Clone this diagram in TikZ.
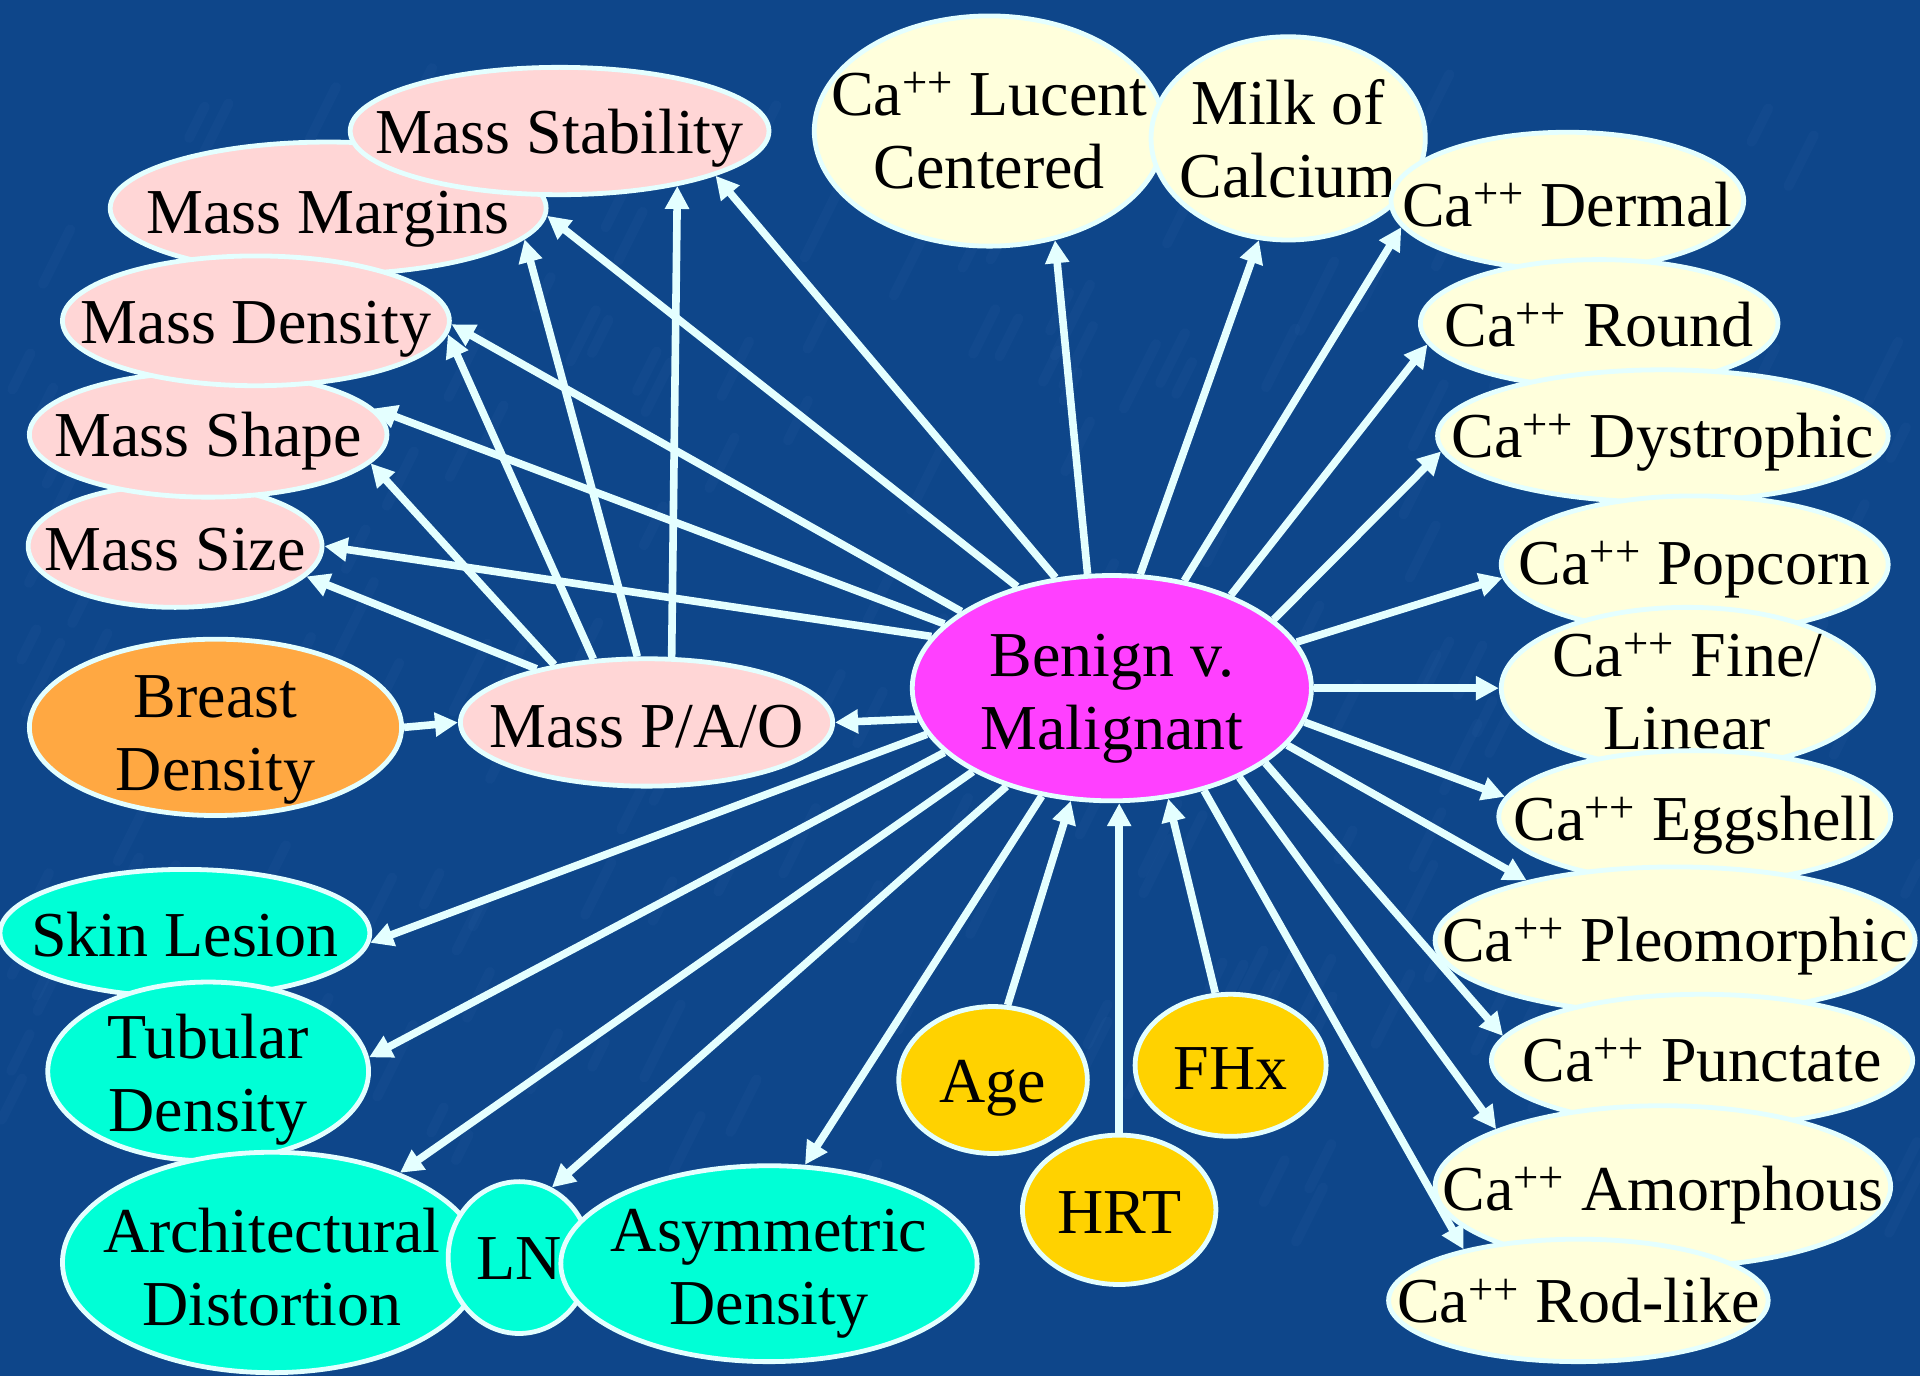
\documentclass[tikz,border=0pt]{standalone}
\usepackage{fontspec}
\setmainfont{Liberation Serif}
\usetikzlibrary{shapes.geometric,arrows.meta}

\definecolor{linec}{RGB}{228,255,255}
\definecolor{bgtop}{RGB}{3,36,62}
\definecolor{bgdim}{RGB}{8,54,100}
\definecolor{bgmid}{RGB}{14,70,138}
\definecolor{bgbot}{RGB}{4,42,72}
\definecolor{streak}{RGB}{110,160,225}
\definecolor{massc}{RGB}{255,214,214}
\definecolor{rootc}{RGB}{255,64,255}
\definecolor{breastc}{RGB}{255,168,66}
\definecolor{signc}{RGB}{0,255,214}
\definecolor{riskc}{RGB}{255,210,0}
\definecolor{calcc}{RGB}{255,255,220}

\pgfdeclareverticalshading{slidebg}{100bp}{%
  color(0bp)=(bgbot); color(6bp)=(bgdim); color(14bp)=(bgmid);
  color(78bp)=(bgmid); color(92bp)=(bgdim); color(100bp)=(bgtop)}

\tikzset{
  bub/.style={ellipse, draw=linec, line width=2.4pt, inner sep=0pt},
  sz/.style 2 args={minimum width=#1*1.2244pt, minimum height=#2*1.2244pt},
  txt/.style 2 args={label={[yshift=-#1*0.6122pt]center:#2}},
  arr/.style={draw=linec, line width=3.8pt,
    -{Triangle[length=11.5pt,width=11.5pt]}},
}

\begin{document}
\begin{tikzpicture}[x=0.6122pt, y=-0.6122pt,
  font=\fontsize{32}{36.5}\selectfont,
  every label/.style={inner sep=0pt, align=center, text=black}]
\useasboundingbox (0,0) rectangle (1568,1123);
\shade[shading=slidebg] (0,0) rectangle (1568,1123);
% soft mottled streaks of the slide texture
\pgfmathsetseed{11}
\foreach \i in {1,...,220}{
  \pgfmathsetmacro\sx{rnd*1568}
  \pgfmathsetmacro\sy{110+rnd*920}
  \pgfmathsetmacro\sl{20+rnd*40}
  \draw[streak, opacity=0.045, line width=5pt, line cap=round]
    (\sx,\sy) -- ++(0.5*\sl,-\sl);
}

% mass descriptors
\node[bub, fill=massc, sz={120}{50}, txt={3}{Mass Size}] (size) at (143,446) {};
\node[bub, fill=massc, sz={146}{51}, txt={5}{Mass Shape}] (shape) at (170,355) {};
\node[bub, fill=massc, sz={178}{54}, txt={9}{Mass Margins}] (marg) at (268,170) {};
\node[bub, fill=massc, sz={158}{53}, txt={7}{Mass Density}] (dens) at (209,262) {};
\node[bub, fill=massc, sz={171}{52}, txt={6}{Mass Stability}] (stab) at (457,107) {};
\node[bub, fill=massc, sz={152}{52}, txt={3}{Mass P/A/O}] (pao) at (528,590) {};
\node[bub, fill=breastc, sz={152}{72}, txt={10}{Breast\\Density}] (breast) at (176,594) {};

% root
\node[bub, fill=rootc, sz={163}{92}, txt={9}{Benign v.\\Malignant}] (ben) at (908,562) {};

% calcifications
\node[bub, fill=calcc, sz={143}{94}, txt={0}{Ca\textsuperscript{++} Lucent\\Centered}] (luc) at (808,107) {};
\node[bub, fill=calcc, sz={112}{83}, txt={0}{Milk of\\Calcium}] (milk) at (1052,113) {};
\node[bub, fill=calcc, sz={144}{56}, txt={3}{Ca\textsuperscript{++} Dermal}] (derm) at (1280,164) {};
\node[bub, fill=calcc, sz={146}{52}, txt={1}{Ca\textsuperscript{++} Round}] (round) at (1306,264) {};
\node[bub, fill=calcc, sz={184}{54}, txt={5}{Ca\textsuperscript{++} Dystrophic}] (dys) at (1358,356) {};
\node[bub, fill=calcc, sz={158}{56}, txt={4}{Ca\textsuperscript{++} Popcorn}] (pop) at (1384,461) {};
\node[bub, fill=calcc, sz={152}{66}, txt={3}{Ca\textsuperscript{++} Fine/\\Linear}] (fine) at (1378,562) {};
\node[bub, fill=calcc, sz={160}{54}, txt={7}{Ca\textsuperscript{++} Eggshell}] (egg) at (1384,667) {};
\node[bub, fill=calcc, sz={196}{60}, txt={5}{Ca\textsuperscript{++} Pleomorphic}] (pleo) at (1368,768) {};
\node[bub, fill=calcc, sz={172}{54}, txt={0}{Ca\textsuperscript{++} Punctate}] (punc) at (1390,866) {};
\node[bub, fill=calcc, sz={186}{66}, txt={7}{Ca\textsuperscript{++} Amorphous}] (amor) at (1358,969) {};
\node[bub, fill=calcc, sz={155}{50}, txt={0}{Ca\textsuperscript{++} Rod-like}] (rod) at (1289,1062) {};

% other findings
\node[bub, fill=signc, sz={151}{52}, txt={1}{Skin Lesion}] (skin) at (151,762) {};
\node[bub, fill=signc, sz={131}{73}, txt={7}{Tubular\\Density}] (tub) at (170,875) {};
\node[bub, fill=signc, sz={171}{90}, txt={4}{Architectural\\Distortion}] (arch) at (222,1031) {};
\node[bub, fill=signc, sz={58}{62}, txt={1}{LN}] (ln) at (424,1027) {};
\node[bub, fill=signc, sz={170}{80}, txt={8}{Asymmetric\\Density}] (asym) at (628,1032) {};

% risk factors
\node[bub, fill=riskc, sz={77}{60}, txt={7}{Age}] (age) at (811,882) {};
\node[bub, fill=riskc, sz={78}{58}, txt={3}{FHx}] (fhx) at (1005,870) {};
\node[bub, fill=riskc, sz={79}{61}, txt={2}{HRT}] (hrt) at (914,988) {};

% edges from the root
\draw[arr] (ben.117) -- (stab.-16);
\draw[arr] (ben.133.5) -- (marg.-2.7);
\draw[arr] (ben.153.4) -- (dens.-1);
\draw[arr] (ben.159.4) -- (shape.9.9);
\draw[arr] (ben.164.9) -- (size.0);
\draw[arr] (ben.189.5) -- (pao.0);
\draw[arr] (ben.102.3) -- (luc.-59);
\draw[arr] (ben.76.6) -- (milk.254.4);
\draw[arr] (ben.56.8) -- (derm.189.6);
\draw[arr] (ben.38.4) -- (round.187);
\draw[arr] (ben.23.8) -- (dys.184.6);
\draw[arr] (ben.14.9) -- (pop.184);
\draw[arr] (ben.0) -- (fine.180);
\draw[arr] (ben.-10) -- (egg.174.4);
\draw[arr] (ben.-18.8) -- (pleo.158.5);
\draw[arr] (ben.-26) -- (punc.173.7);
\draw[arr] (ben.-35.6) -- (amor.161.3);
\draw[arr] (ben.-48.2) -- (rod.156.7);
\draw[arr] (ben.194.2) -- (skin.-3.8);
\draw[arr] (ben.201.3) -- (tub.5.6);
\draw[arr] (ben.211) -- (arch.35.4);
\draw[arr] (ben.223.3) -- (ln.65.2);
\draw[arr] (ben.237.2) -- (asym.70.7);

% risk factors into the root
\draw[arr] (age.79.6) -- (ben.250.8);
\draw[arr] (hrt.north) -- (hrt.north |- ben.south);
\draw[arr] (fhx.102.6) -- (ben.297.3);

% mass presence feeds the mass descriptors
\draw[arr] (pao.69) -- (stab.-25.3);
\draw[arr] (pao.98.6) -- (marg.-9.3);
\draw[arr] (pao.130.7) -- (dens.-4);
\draw[arr] (pao.148.4) -- (shape.-10);
\draw[arr] (pao.154.5) -- (size.-13.7);
\draw[arr] (breast.0) -- (pao.180);
\end{tikzpicture}
\end{document}
